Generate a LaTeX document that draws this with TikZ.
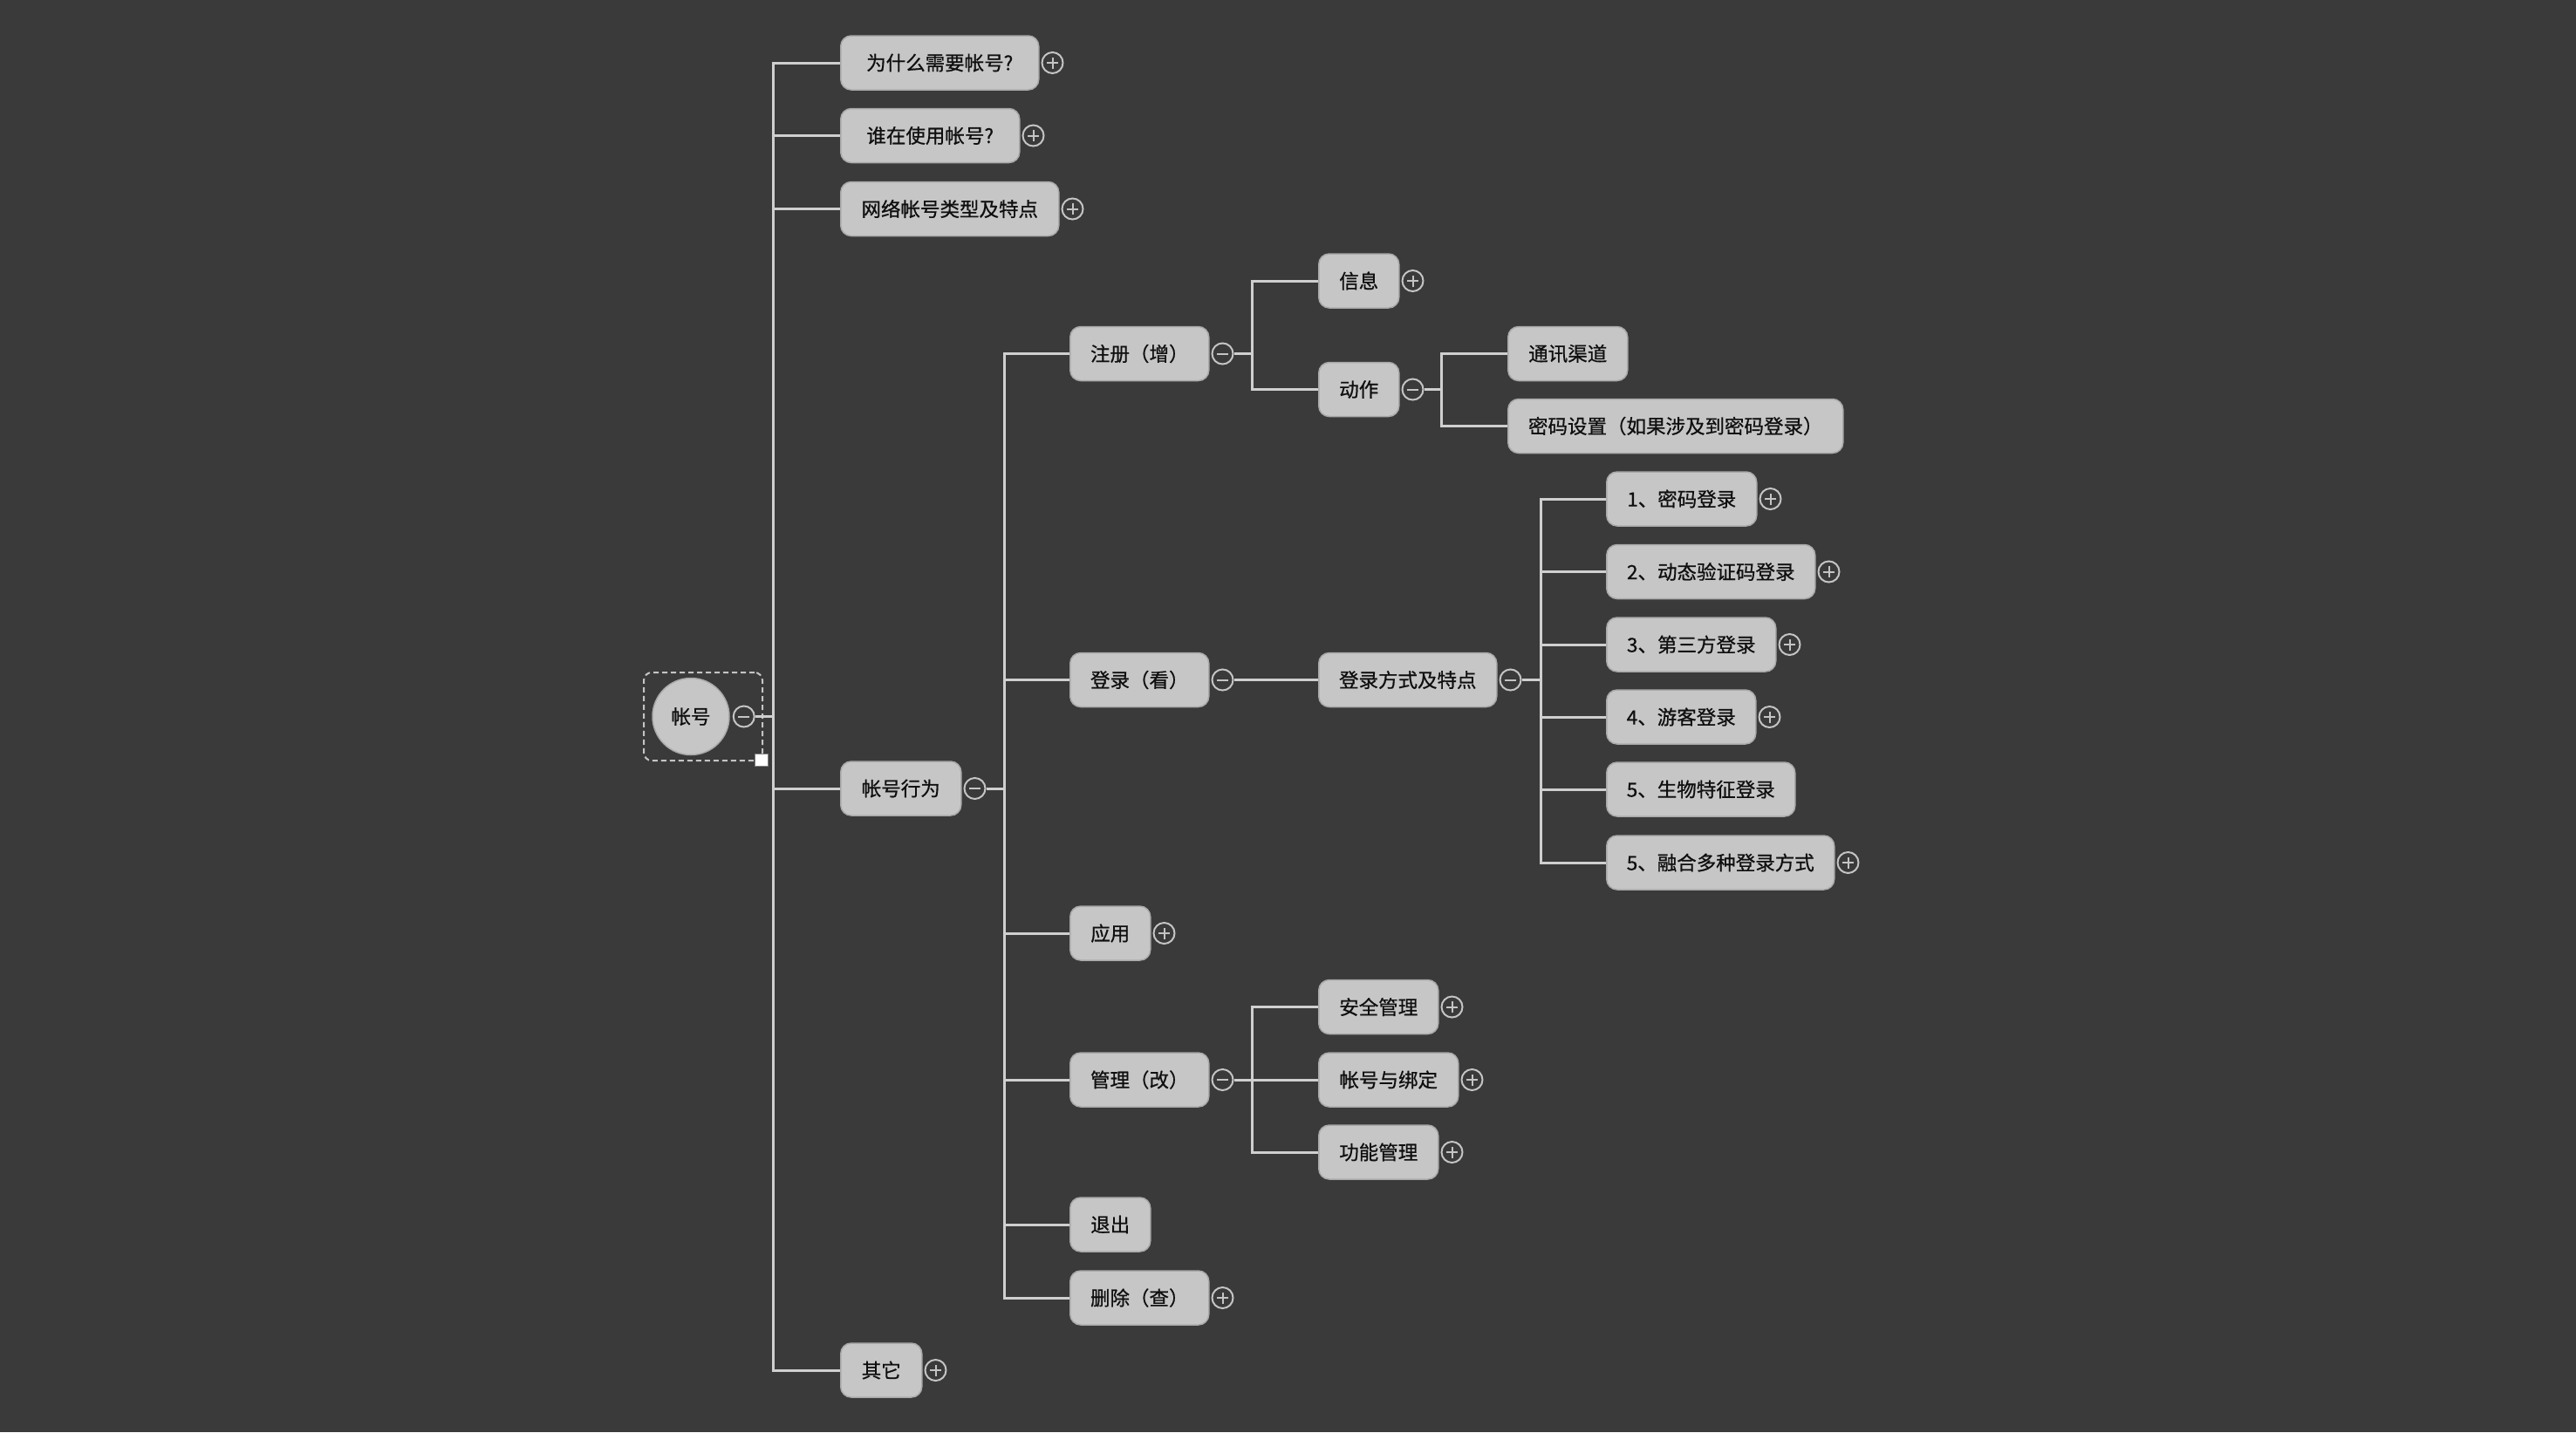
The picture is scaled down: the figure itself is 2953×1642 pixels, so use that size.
\documentclass[tikz,border=0pt]{standalone}
\usepackage{fontspec}
\newfontfamily\cjk[FakeBold=0.7]{Noto Sans CJK SC}
\definecolor{bg}{HTML}{3A3A3A}
\definecolor{boxfill}{HTML}{C6C6C6}
\definecolor{boxedge}{HTML}{A9A9A9}
\definecolor{linecol}{HTML}{CFCFCF}
\definecolor{btncol}{HTML}{C4C4C4}
\definecolor{txt}{HTML}{0F0F0F}
\tikzset{
  box/.style={draw=boxedge, line width=1.5pt, fill=boxfill, rounded corners=12pt,
    minimum height=62pt, inner sep=0pt, anchor=west, text=txt,
    font=\cjk\fontsize{22.5}{22.5}\selectfont},
  rootnode/.style={circle, draw=boxedge, line width=1.5pt, fill=boxfill,
    minimum size=88pt, inner sep=0pt, text=txt, font=\cjk\fontsize{22.5}{22.5}\selectfont},
  conn/.style={draw=linecol, line width=3pt},
  btnbase/.style={circle, draw=btncol, line width=2pt, fill=bg, minimum size=24pt, inner sep=0pt},
  plusb/.style={btnbase, path picture={
    \draw[btncol, line width=2pt]
      ([xshift=-6.5pt]path picture bounding box.center) -- ([xshift=6.5pt]path picture bounding box.center)
      ([yshift=-6.5pt]path picture bounding box.center) -- ([yshift=6.5pt]path picture bounding box.center);}},
  minusb/.style={btnbase, path picture={
    \draw[btncol, line width=2pt]
      ([xshift=-6.5pt]path picture bounding box.center) -- ([xshift=6.5pt]path picture bounding box.center);}},
  selbox/.style={draw=btncol, dashed, dash pattern=on 6pt off 4pt, line width=2pt, rounded corners=9pt,
    minimum width=136pt, minimum height=101pt, inner sep=0pt},
  handle/.style={draw=gray, line width=1pt, fill=white, minimum width=15pt, minimum height=14pt, inner sep=0pt}
}
\begin{document}
\begin{tikzpicture}[x=1pt,y=-1pt]
\fill[bg] (0,0) rectangle (2953,1642);
\useasboundingbox (0,0) rectangle (2953,1642);

% root
\node[selbox] (sel) at (806,821.5) {};
\node[rootnode] (root) at (792,821.5) {帐号};
\node[minusb] (rootb) at ([xshift=16pt]root.east) {};
\node[handle] (hdl) at (873,871) {};

% level 1
\node[box, minimum width=227] (l1a) at (963,72) {为什么需要帐号?};
\node[box, minimum width=205] (l1b) at (963,155.5) {谁在使用帐号?};
\node[box, minimum width=250] (l1c) at (963,239.5) {网络帐号类型及特点};
\node[box, minimum width=138] (beh) at (963,904) {帐号行为};
\node[box, minimum width=93] (other) at (963,1571) {其它};
\node[plusb] (l1ab) at ([xshift=15pt]l1a.east) {};
\node[plusb] (l1bb) at ([xshift=15pt]l1b.east) {};
\node[plusb] (l1cb) at ([xshift=15pt]l1c.east) {};
\node[minusb] (behb) at ([xshift=15pt]beh.east) {};
\node[plusb] (otherb) at ([xshift=15pt]other.east) {};

% level 2
\node[box, minimum width=159] (reg) at (1226,405.5) {注册（增）};
\node[box, minimum width=159] (login) at (1226,779.5) {登录（看）};
\node[box, minimum width=92] (app) at (1226,1070) {应用};
\node[box, minimum width=159] (mgmt) at (1226,1238) {管理（改）};
\node[box, minimum width=92] (quit) at (1226,1404) {退出};
\node[box, minimum width=159] (del) at (1226,1488) {删除（查）};
\node[minusb] (regb) at ([xshift=15pt]reg.east) {};
\node[minusb] (loginb) at ([xshift=15pt]login.east) {};
\node[plusb] (appb) at ([xshift=15pt]app.east) {};
\node[minusb] (mgmtb) at ([xshift=15pt]mgmt.east) {};
\node[plusb] (delb) at ([xshift=15pt]del.east) {};

% level 3
\node[box, minimum width=92] (info) at (1511,322) {信息};
\node[box, minimum width=92] (act) at (1511,446.5) {动作};
\node[box, minimum width=204] (lway) at (1511,779.5) {登录方式及特点};
\node[box, minimum width=137] (sec) at (1511,1154.5) {安全管理};
\node[box, minimum width=160] (bind) at (1511,1238) {帐号与绑定};
\node[box, minimum width=137] (func) at (1511,1321) {功能管理};
\node[plusb] (infob) at ([xshift=15pt]info.east) {};
\node[minusb] (actb) at ([xshift=15pt]act.east) {};
\node[minusb] (lwayb) at ([xshift=15pt]lway.east) {};
\node[plusb] (secb) at ([xshift=15pt]sec.east) {};
\node[plusb] (bindb) at ([xshift=15pt]bind.east) {};
\node[plusb] (funcb) at ([xshift=15pt]func.east) {};

% level 4
\node[box, minimum width=137] (chan) at (1728,405.5) {通讯渠道};
\node[box, minimum width=384] (pwdset) at (1728,488.5) {密码设置（如果涉及到密码登录）};
\node[box, minimum width=172] (w1) at (1841,572) {1、密码登录};
\node[box, minimum width=239] (w2) at (1841,655.5) {2、动态验证码登录};
\node[box, minimum width=194] (w3) at (1841,739) {3、第三方登录};
\node[box, minimum width=171] (w4) at (1841,822) {4、游客登录};
\node[box, minimum width=216] (w5) at (1841,905) {5、生物特征登录};
\node[box, minimum width=261] (w6) at (1841,989) {5、融合多种登录方式};
\node[plusb] (w1b) at ([xshift=15pt]w1.east) {};
\node[plusb] (w2b) at ([xshift=15pt]w2.east) {};
\node[plusb] (w3b) at ([xshift=15pt]w3.east) {};
\node[plusb] (w4b) at ([xshift=15pt]w4.east) {};
\node[plusb] (w6b) at ([xshift=15pt]w6.east) {};

% connectors
\foreach \c in {l1a,l1b,l1c,beh,other}
  \draw[conn] (rootb.east) -- ++(21,0) |- (\c.west);
\foreach \c in {reg,login,app,mgmt,quit,del}
  \draw[conn] (behb.east) -- ++(21,0) |- (\c.west);
\foreach \c in {info,act}
  \draw[conn] (regb.east) -- ++(21,0) |- (\c.west);
\foreach \c in {chan,pwdset}
  \draw[conn] (actb.east) -- ++(20,0) |- (\c.west);
\draw[conn] (loginb.east) -- (lway.west);
\foreach \c in {w1,w2,w3,w4,w5,w6}
  \draw[conn] (lwayb.east) -- ++(22,0) |- (\c.west);
\foreach \c in {sec,bind,func}
  \draw[conn] (mgmtb.east) -- ++(21,0) |- (\c.west);
\end{tikzpicture}
\end{document}
